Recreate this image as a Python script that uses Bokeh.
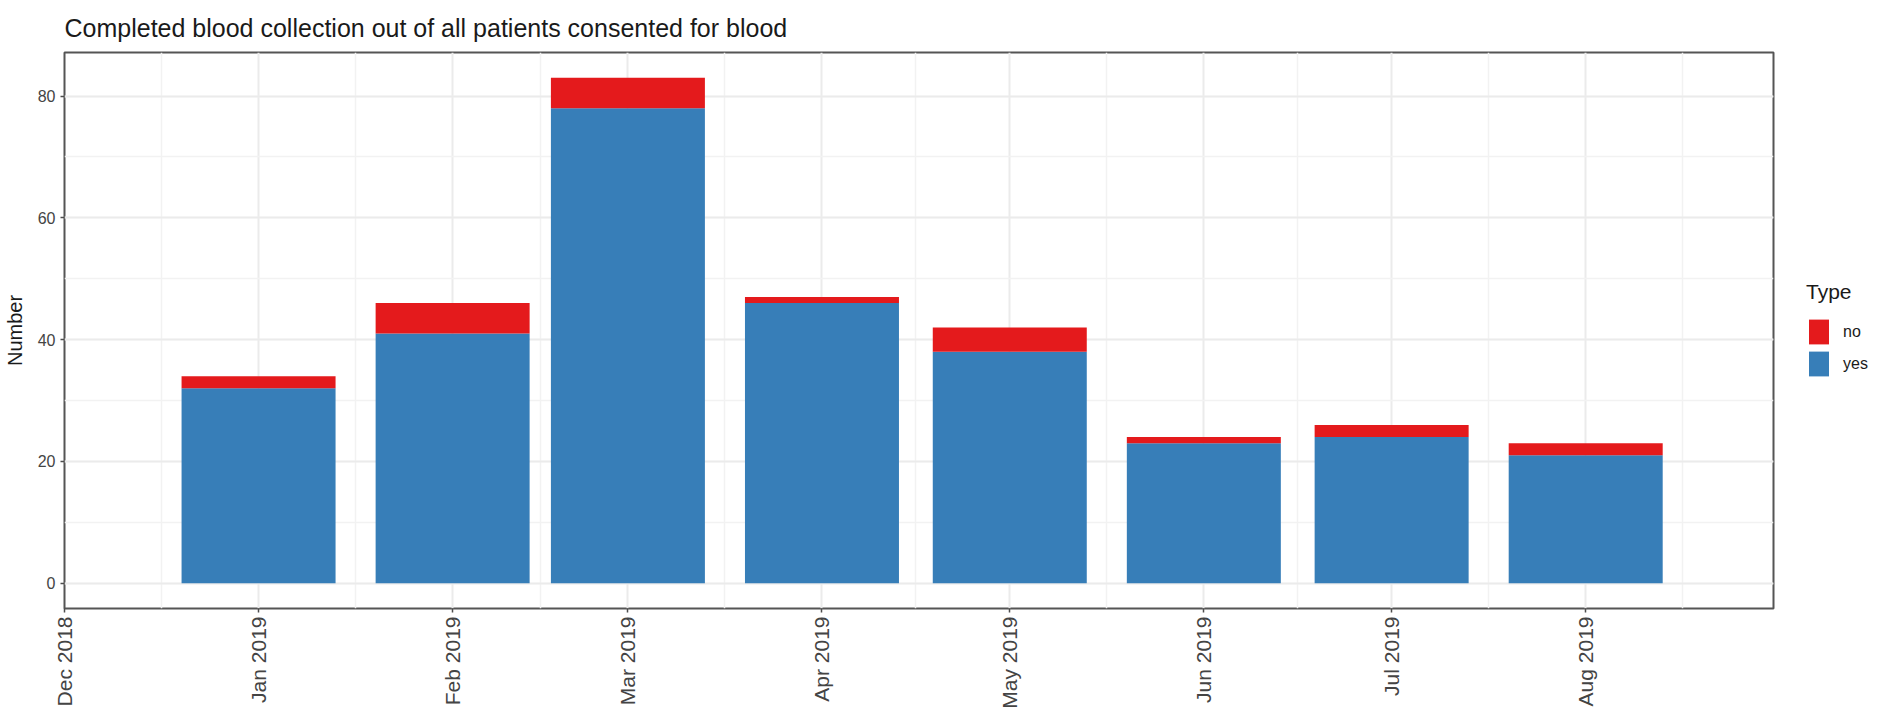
import math
import pandas as pd
from bokeh.plotting import figure
from bokeh.models import (ColumnDataSource, Range1d, FixedTicker, SingleIntervalTicker,
                          DatetimeTickFormatter, Legend, LegendItem)
from bokeh.embed import file_html
from bokeh.resources import INLINE

# ---- data ----
months = ["2019-01-01", "2019-02-01", "2019-03-01", "2019-04-01",
          "2019-05-01", "2019-06-01", "2019-07-01", "2019-08-01"]
yes_counts = [32, 41, 78, 46, 38, 23, 24, 21]
no_counts = [2, 5, 5, 1, 4, 1, 2, 2]
tick_months = ["2018-12-01", "2019-01-01", "2019-02-01", "2019-03-01", "2019-04-01",
               "2019-05-01", "2019-06-01", "2019-07-01", "2019-08-01"]
x_limits = ["2018-12-01", "2019-08-31"]
y_limits = [-4.15, 87.15]
series = ["yes", "no"]
colors = {"yes": "#377EB8", "no": "#E41A1C"}

def ms(s):
    return pd.Timestamp(s).value / 1e6

src = ColumnDataSource(dict(month=pd.to_datetime(months), yes=yes_counts, no=no_counts))

DAY = 86400000.0
bar_width = 24.6 * DAY

p = figure(x_axis_type="datetime", output_backend="svg", toolbar_location=None,
           frame_width=1709, frame_height=556,
           x_range=Range1d(pd.Timestamp(x_limits[0]), pd.Timestamp(x_limits[1])),
           y_range=Range1d(*y_limits),
           min_border_left=55, min_border_right=100, min_border_top=52, min_border_bottom=92,
           title="Completed blood collection out of all patients consented for blood")

rs = p.vbar_stack(series, x="month", width=bar_width, source=src,
                  color=[colors[s] for s in series], line_color=None)
r_yes, r_no = rs

# title
p.title.text_font = "Liberation Sans"
p.title.text_font_size = "25px"
p.title.text_font_style = "normal"
p.title.text_color = "#1a1a1a"
p.title.standoff = 22

# frame
p.background_fill_color = "white"
p.border_fill_color = "white"
p.outline_line_color = "#555555"
p.outline_line_width = 2

# ticks / grids
tick_ms = [ms(t) for t in tick_months]
minor_ms = [(a + b) / 2 for a, b in zip(tick_ms, tick_ms[1:])] + [tick_ms[-1] + 15.5 * DAY]
p.xaxis.ticker = FixedTicker(ticks=tick_ms, minor_ticks=minor_ms)
fmt = "%b %Y"
p.xaxis.formatter = DatetimeTickFormatter(milliseconds=fmt, seconds=fmt, minsec=fmt, minutes=fmt,
                                          hourmin=fmt, hours=fmt, days=fmt, months=fmt, years=fmt)
p.yaxis.ticker = SingleIntervalTicker(interval=20, num_minor_ticks=2)

for g in (p.xgrid, p.ygrid):
    g.grid_line_color = "#ebebeb"
    g.grid_line_width = 2
    g.minor_grid_line_color = "#f2f2f2"
    g.minor_grid_line_width = 1.5

for ax in (p.xaxis, p.yaxis):
    ax.axis_line_color = None
    ax.major_tick_line_color = "#4d4d4d"
    ax.major_tick_line_width = 1.5
    ax.major_tick_out = 4
    ax.major_tick_in = 0
    ax.minor_tick_line_color = None
    ax.major_label_text_color = "#444444"
    ax.major_label_text_font = "Liberation Sans"
    ax.major_label_standoff = 5

p.xaxis.major_label_orientation = math.pi / 2
p.xaxis.major_label_text_font_size = "21px"
p.xaxis.major_label_standoff = 4
p.yaxis.major_label_text_font_size = "16px"

p.yaxis.axis_label = "Number"
p.yaxis.axis_label_text_font = "Liberation Sans"
p.yaxis.axis_label_text_font_size = "20px"
p.yaxis.axis_label_text_font_style = "normal"
p.yaxis.axis_label_text_color = "#1a1a1a"
p.yaxis.axis_label_standoff = 9

# legend (outside the panel to the right)
legend = Legend(items=[LegendItem(label="no", renderers=[r_no]),
                       LegendItem(label="yes", renderers=[r_yes])],
                title="Type", location=(33, 229))
legend.title_text_font = "Liberation Sans"
legend.title_text_font_size = "21px"
legend.title_text_font_style = "normal"
legend.title_text_color = "#1a1a1a"
legend.title_standoff = 12
legend.label_text_font = "Liberation Sans"
legend.label_text_font_size = "16px"
legend.label_text_color = "#1a1a1a"
legend.glyph_width = 25
legend.glyph_height = 31
legend.label_height = 31
legend.label_standoff = 12
legend.spacing = 1
legend.padding = 0
legend.margin = 0
legend.border_line_color = None
legend.background_fill_alpha = 0
p.add_layout(legend, "right")

open("out.html", "w").write(file_html(p, INLINE))
